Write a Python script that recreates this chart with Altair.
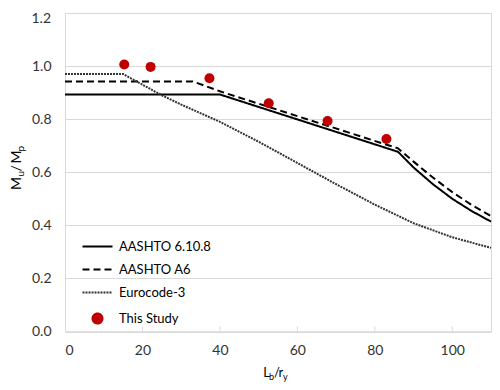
import altair as alt
import pandas as pd

series_names = ["AASHTO 6.10.8", "AASHTO A6", "Eurocode-3", "This Study"]

aashto_x = [0, 40, 86, 90, 95, 100, 105, 110]
aashto_y = [0.893, 0.893, 0.677, 0.618, 0.555, 0.50, 0.454, 0.414]

a6_x = [0, 33, 40, 86, 90, 95, 100, 105, 110]
a6_y = [0.942, 0.942, 0.905, 0.69, 0.64, 0.58, 0.525, 0.477, 0.435]

euro_x = [0, 15, 20, 25, 30, 40, 50, 60, 70, 80, 90, 100, 110]
euro_y = [0.97, 0.97, 0.93, 0.89, 0.855, 0.79, 0.715, 0.635, 0.555, 0.478, 0.408, 0.355, 0.315]

study_x = [15.3, 22.1, 37.3, 52.6, 67.8, 83.0]
study_y = [1.006, 0.997, 0.954, 0.86, 0.793, 0.725]

x_ticks = [0, 20, 40, 60, 80, 100]
y_ticks = [0.0, 0.2, 0.4, 0.6, 0.8, 1.0, 1.2]
inner_ticks = [20, 40, 60, 80, 100]
top_label = "1.2"

rows = []
for name, xs, ys in [
    (series_names[0], aashto_x, aashto_y),
    (series_names[1], a6_x, a6_y),
    (series_names[2], euro_x, euro_y),
    (series_names[3], study_x, study_y),
]:
    for xv, yv in zip(xs, ys):
        rows.append({"series": name, "x": xv, "y": yv})
df = pd.DataFrame(rows)

TOP = 5
W, H = 426, 331.5 - 8 - TOP
FONT = "Lato"
GRID = "#d9d9d9"
LABEL = "#333333"

legend = alt.Legend(
    title=None, orient="none", legendX=26, legendY=232 - TOP, padding=0,
    labelFont=FONT, labelFontSize=13, labelColor="#000000",
    rowPadding=9, labelOffset=15,
)

color_scale = alt.Scale(domain=series_names, range=["#000000", "#000000", "#333333", "#C00000"])
dash_scale = alt.Scale(domain=series_names, range=[[1, 0], [7, 4], [2, 1], [1, 0]])
width_scale = alt.Scale(domain=series_names, range=[2, 2, 0.8, 1])
shape_scale = alt.Scale(domain=series_names, range=["M-3,0H3", "M-3,0H3", "M-3,0H3", "circle"])
size_scale = alt.Scale(domain=series_names, range=[100, 100, 100, 27])

x_enc = alt.X("x:Q", scale=alt.Scale(domain=[0, 110], nice=False),
              axis=alt.Axis(values=x_ticks, title=None, grid=False, ticks=False, tickSize=0,
                            labelPadding=12, domainColor=GRID))
y_enc = alt.Y("y:Q", scale=alt.Scale(domain=[0, 1.2], nice=False),
              axis=alt.Axis(values=y_ticks, format=".1f", title=None, grid=True, gridColor=GRID,
                            ticks=False, tickSize=0, labelPadding=14, domainColor=GRID,
                            labelExpr="datum.value > 1.1 ? '' : format(datum.value, '.1f')"))

lines = alt.Chart(df).transform_filter(alt.datum.series != "This Study").mark_line().encode(
    x=x_enc, y=y_enc,
    color=alt.Color("series:N", scale=color_scale, legend=legend),
    strokeDash=alt.StrokeDash("series:N", scale=dash_scale, legend=legend),
    strokeWidth=alt.StrokeWidth("series:N", scale=width_scale, legend=legend),
)

points = alt.Chart(df).transform_filter(alt.datum.series == "This Study").mark_point(
    filled=True, opacity=1).encode(
    x=x_enc, y=y_enc,
    color=alt.Color("series:N", scale=color_scale, legend=legend),
    shape=alt.Shape("series:N", scale=shape_scale, legend=legend),
    size=alt.Size("series:N", scale=size_scale, legend=legend),
)

ticks = alt.Chart(pd.DataFrame({"t": inner_ticks})).mark_rule(color=GRID).encode(
    x=alt.X("t:Q"), y=alt.value(H), y2=alt.value(H - 5))

one = pd.DataFrame({"a": [0]})

def txt(s, x, y, size, angle=0, align="left", baseline="alphabetic", color="#000000"):
    return alt.Chart(one).mark_text(text=s, font=FONT, fontSize=size, align=align,
                                    baseline=baseline, angle=angle, color=color).encode(
        x=alt.value(x), y=alt.value(y - TOP + 2))

titles = [
    txt("L", 198.3, 367, 13), txt("b", 204, 370, 9), txt("/", 209, 367, 13),
    txt("r", 213.5, 367, 13), txt("y", 218, 370, 9),
    txt("M", -44, 180, 14, 270), txt("u", -40.8, 166.5, 10, 270),
    txt("/", -44, 161.5, 14, 270), txt("M", -44, 153.5, 14, 270),
    txt("p", -40.8, 141.5, 10, 270),
    txt(top_label, -14, 1.5, 14, align="right", baseline="top", color=LABEL),
]

chart = alt.layer(lines, points, ticks, *titles).properties(
    width=W, height=H,
    autosize=alt.AutoSizeParams(type="none"),
    padding={"left": 57, "top": TOP, "right": 1, "bottom": 390 - 8 - TOP - H - 8},
).configure_view(stroke=GRID, strokeWidth=1).configure_axis(
    labelFont=FONT, labelFontSize=14, labelColor=LABEL,
)

chart.save("out.html", embed_options={"renderer": "svg", "actions": False})
